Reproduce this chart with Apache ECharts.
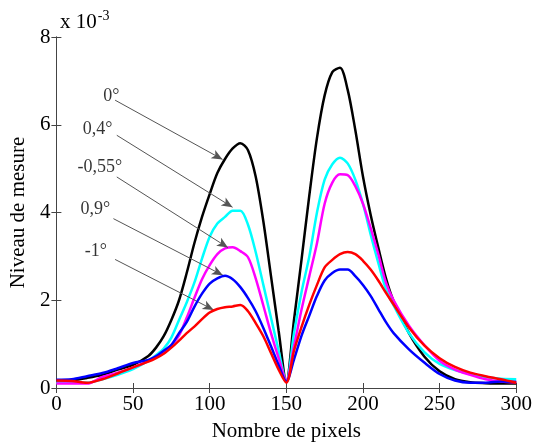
<!DOCTYPE html>
<html>
<head>
<meta charset="utf-8">
<script src="https://cdn.jsdelivr.net/npm/echarts@6/dist/echarts.min.js"></script>
<style>html,body{margin:0;padding:0;background:#fff}#c{width:535px;height:447px}</style>
</head>
<body>
<div id="c"></div>
<script>
// x positions (pixels)
const xs = [0,10,20,30,40,50,60,65,70,75,80,85,90,95,100,105,110,115,120,125,130,135,140,145,150,155,160,165,170,175,180,185,190,195,200,205,210,215,220,230,240,250,260,270,280,290,300];
// values in units of 1e-3
const deg0   = [0.17,0.18,0.23,0.30,0.42,0.53,0.73,0.92,1.18,1.55,2.00,2.62,3.30,3.90,4.42,4.90,5.22,5.46,5.58,5.42,4.82,3.80,2.55,1.30,0.15,1.55,2.95,4.39,5.70,6.67,7.20,7.30,6.80,5.88,4.82,3.95,3.20,2.50,1.98,1.25,0.72,0.38,0.20,0.13,0.11,0.10,0.10];
const deg04  = [0.12,0.12,0.12,0.20,0.30,0.43,0.62,0.75,0.90,1.15,1.55,1.95,2.40,2.95,3.45,3.75,3.90,4.04,4.04,3.72,3.10,2.35,1.60,0.85,0.15,1.25,2.20,3.00,4.00,4.75,5.10,5.25,5.12,4.75,4.20,3.50,2.85,2.25,1.88,1.25,0.82,0.55,0.41,0.32,0.25,0.21,0.20];
const degM055= [0.10,0.10,0.10,0.25,0.35,0.47,0.62,0.72,0.82,0.98,1.20,1.60,2.05,2.48,2.80,3.05,3.18,3.21,3.12,2.98,2.50,1.88,1.25,0.68,0.17,0.95,1.80,2.55,3.30,4.20,4.68,4.87,4.85,4.60,4.20,3.65,3.05,2.40,2.00,1.42,0.98,0.62,0.42,0.30,0.20,0.15,0.13];
const deg09  = [0.19,0.20,0.27,0.34,0.45,0.57,0.64,0.72,0.85,0.98,1.25,1.50,1.85,2.15,2.38,2.50,2.56,2.48,2.30,2.05,1.75,1.37,0.95,0.52,0.15,0.65,1.20,1.65,2.10,2.45,2.62,2.70,2.70,2.55,2.35,2.10,1.80,1.50,1.25,0.88,0.58,0.32,0.17,0.12,0.12,0.15,0.14];
const degM1  = [0.17,0.16,0.12,0.20,0.33,0.47,0.60,0.68,0.78,0.92,1.08,1.25,1.40,1.57,1.72,1.80,1.84,1.86,1.89,1.75,1.48,1.18,0.80,0.42,0.12,0.85,1.40,1.90,2.35,2.75,2.92,3.05,3.10,3.05,2.90,2.70,2.45,2.17,1.90,1.38,0.97,0.68,0.48,0.35,0.27,0.20,0.12];

const seriesNames = ['0°','0,4°','-0,55°','0,9°','-1°'];
const seriesColors = ['#000000','#00ffff','#ff00ff','#0000ff','#ff0000'];
const seriesValues = [deg0, deg04, degM055, deg09, degM1];

// annotation arrows: start [x,y] -> end [x,y] in data units
const arrowStart = [[38.3,6.56],[39.4,5.76],[39.4,4.81],[37.2,3.86],[38.3,2.93]];
const arrowEnd   = [[108.4,5.21],[114.9,4.12],[111.9,3.20],[108.6,2.57],[102.6,1.78]];
// label anchors (right edge of text)
const labelPos   = [[41.2,6.65],[36.6,5.90],[42.9,5.03],[35.1,4.07],[32.9,3.12]];

const xTicks = {min:0, max:300, interval:50};
const yTicks = {min:0, max:8, interval:2};

const FONT = 'Liberation Serif';
const axisCol = '#444';
const chart = echarts.init(document.getElementById('c'));

const lineSeries = seriesValues.map((vals, i) => ({
  name: seriesNames[i], type: 'line', data: xs.map((x, j) => [x, vals[j]]),
  showSymbol: false, smooth: 0.3,
  lineStyle: {color: seriesColors[i], width: 2.5}, itemStyle: {color: seriesColors[i]},
  z: 2 + i, animation: false
}));

const arrowSeries = {
  type: 'line', data: [], silent: true, animation: false, z: 10,
  markLine: {
    silent: true, animation: false,
    symbol: ['none', 'arrow'], symbolSize: [7, 11],
    lineStyle: {color: '#555', width: 1, type: 'solid'},
    label: {show: false},
    data: arrowStart.map((s, i) => [{coord: s}, {coord: arrowEnd[i]}])
  }
};

const labelSeries = {
  type: 'scatter', symbolSize: 0, silent: true, animation: false, z: 11,
  data: labelPos.map((p, i) => ({value: p, name: seriesNames[i]})),
  label: {show: true, position: 'left', distance: 0, formatter: p => p.name,
          fontFamily: FONT, fontSize: 18, color: '#000'}
};

const baseAxis = {
  axisLine: {show: true, lineStyle: {color: axisCol, width: 1}},
  axisTick: {show: true, inside: true, length: 5, lineStyle: {color: axisCol}},
  splitLine: {show: false}
};

chart.setOption({
  backgroundColor: '#fff',
  title: {
    text: '{a|x 10}{b|-3}', left: 55, top: 4,
    textStyle: {fontWeight: 'normal', rich: {
      a: {fontFamily: FONT, fontSize: 21, fontWeight: 'normal', color: '#000'},
      b: {fontFamily: FONT, fontSize: 14, fontWeight: 'normal', color: '#000', padding: [0,0,12,1]}
    }}
  },
  grid: {left: 56, right: 17, top: 37, bottom: 59},
  xAxis: [
    Object.assign({type: 'value', position: 'bottom', min: xTicks.min, max: xTicks.max, interval: xTicks.interval,
      name: 'Nombre de pixels', nameLocation: 'middle', nameGap: 33,
      nameTextStyle: {fontFamily: FONT, fontSize: 21, color: '#000'},
      axisLabel: {fontFamily: FONT, fontSize: 21, color: '#000', margin: 6}}, baseAxis),
    Object.assign({type: 'value', position: 'top', min: xTicks.min, max: xTicks.max, interval: xTicks.interval,
      axisLabel: {show: false}}, baseAxis)
  ],
  yAxis: [
    Object.assign({type: 'value', position: 'left', min: yTicks.min, max: yTicks.max, interval: yTicks.interval,
      name: 'Niveau de mesure', nameLocation: 'middle', nameGap: 27,
      nameTextStyle: {fontFamily: FONT, fontSize: 21, color: '#000'},
      axisLabel: {fontFamily: FONT, fontSize: 21, color: '#000', margin: 6}}, baseAxis),
    Object.assign({type: 'value', position: 'right', min: yTicks.min, max: yTicks.max, interval: yTicks.interval,
      axisLabel: {show: false}}, baseAxis)
  ],
  series: lineSeries.concat([arrowSeries, labelSeries])
});
</script>
</body>
</html>
